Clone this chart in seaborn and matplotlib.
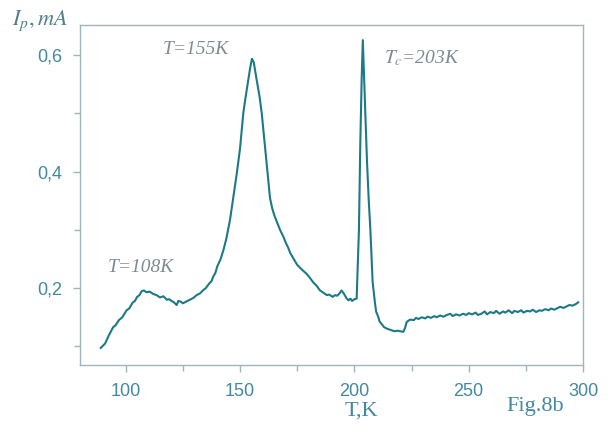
import matplotlib
matplotlib.use("Agg")
import matplotlib.pyplot as plt
import seaborn as sns
import pandas as pd
from matplotlib.ticker import FixedLocator

temperature_K = [
    89, 90, 91, 92.5, 94.5, 95.5, 97, 98.5, 100.4, 101.5, 103, 104, 105, 106, 107, 108,
    109, 110.5, 112, 113.5, 115, 116.5, 118, 119, 120, 121, 122.3, 123, 124, 125, 126,
    127, 128, 129.5, 131, 132.5, 134, 135, 136.5, 137.5, 138.3, 139.2, 140, 141.5,
    142.7, 144, 145.6, 147, 148.5, 150, 151.4, 152.5, 153.6, 154.5, 155.2, 156, 157.3,
    158.5, 159.5, 161, 162.4, 163.1, 164, 165, 166, 167.5, 169, 170, 171, 172, 173.5,
    175, 177, 179, 180.5, 182, 183.5, 185, 186.5, 188, 189, 190.5, 191.5, 192.5, 193.5,
    194.4, 195.5, 196.5, 197.4, 198.3, 199, 200, 201, 202, 202.6, 203.2, 203.7, 204.2,
    204.8, 205.5, 206.3, 207, 208, 209, 209.5, 210.5, 211, 212, 213, 214.5, 216, 217.5,
    219, 220, 221.4, 222.2, 222.9, 224.4, 226, 227, 228, 229.5, 231, 232, 233.5, 235,
    236, 237.5, 239, 240.5, 242, 243, 244.5, 246, 247.5, 249, 250, 251.5, 253, 254,
    255.5, 257, 258, 259.5, 261, 262, 263.5, 265, 266, 267.5, 269, 270, 271.5, 273,
    274, 275.5, 277, 278, 279.5, 281, 282, 283.5, 285, 286, 287.5, 289, 290, 291.5,
    293, 294, 295.5, 297, 298,
]
current_mA = [
    0.097, 0.101, 0.105, 0.118, 0.133, 0.136, 0.145, 0.150, 0.162, 0.165, 0.175, 0.178,
    0.185, 0.188, 0.195, 0.196, 0.193, 0.194, 0.190, 0.188, 0.184, 0.186, 0.180, 0.181,
    0.178, 0.176, 0.171, 0.178, 0.177, 0.174, 0.176, 0.178, 0.180, 0.183, 0.188, 0.191,
    0.197, 0.200, 0.208, 0.212, 0.220, 0.226, 0.237, 0.250, 0.265, 0.285, 0.317, 0.355,
    0.395, 0.440, 0.500, 0.530, 0.557, 0.580, 0.594, 0.588, 0.557, 0.530, 0.500, 0.440,
    0.385, 0.355, 0.338, 0.325, 0.315, 0.300, 0.288, 0.278, 0.270, 0.260, 0.250, 0.240,
    0.232, 0.225, 0.218, 0.210, 0.204, 0.196, 0.192, 0.188, 0.189, 0.185, 0.188, 0.187,
    0.191, 0.196, 0.190, 0.183, 0.179, 0.182, 0.178, 0.181, 0.182, 0.300, 0.450, 0.560,
    0.626, 0.570, 0.500, 0.420, 0.350, 0.300, 0.210, 0.175, 0.160, 0.150, 0.143, 0.138,
    0.133, 0.130, 0.128, 0.126, 0.127, 0.126, 0.125, 0.132, 0.142, 0.146, 0.145, 0.149,
    0.147, 0.150, 0.148, 0.151, 0.149, 0.152, 0.150, 0.153, 0.151, 0.154, 0.156, 0.152,
    0.155, 0.153, 0.156, 0.154, 0.157, 0.155, 0.158, 0.154, 0.156, 0.160, 0.155, 0.159,
    0.157, 0.161, 0.156, 0.160, 0.158, 0.162, 0.157, 0.161, 0.159, 0.162, 0.158, 0.161,
    0.160, 0.163, 0.159, 0.162, 0.161, 0.164, 0.162, 0.165, 0.163, 0.166, 0.168, 0.166,
    0.169, 0.171, 0.170, 0.173, 0.176,
]

x_ticks = [100, 150, 200, 250, 300]
x_minor_ticks = [125, 175, 225, 275]
y_ticks = [0.2, 0.4, 0.6]
y_tick_labels = ["0,2", "0,4", "0,6"]
y_minor_ticks = [0.1, 0.3, 0.5]

peak_labels = ["T=155K", "T=108K", r"$T_c$=203K"]
peak_label_pos = [(116, 0.603), (92, 0.227), (213, 0.586)]

sns.set_style("ticks")
plt.rcParams["mathtext.fontset"] = "stix"

line_color = "#1c7a86"
spine_color = "#9fb6bc"
tick_text_color = "#4389a0"
note_color = "#7d8b90"

df = pd.DataFrame({"T": temperature_K, "I": current_mA})

fig = plt.figure(figsize=(6.12, 4.25), dpi=100)
ax = fig.add_axes([80 / 612, 60 / 425, 503 / 612, 340 / 425])
sns.lineplot(data=df, x="T", y="I", ax=ax, color=line_color, linewidth=1.5)

ax.set_xlim(80, 300)
ax.set_ylim(0.068, 0.652)
ax.set_xticks(x_ticks)
ax.xaxis.set_minor_locator(FixedLocator(x_minor_ticks))
ax.set_yticks(y_ticks)
ax.set_yticklabels(y_tick_labels)
ax.yaxis.set_minor_locator(FixedLocator(y_minor_ticks))
ax.tick_params(which="both", direction="out", color=spine_color, width=1.0,
               labelcolor=tick_text_color, labelsize=13)
ax.tick_params(which="major", length=5, pad=8)
ax.tick_params(which="minor", length=4)
for lab in ax.get_xticklabels() + ax.get_yticklabels():
    lab.set_family("Liberation Sans")
for s in ax.spines.values():
    s.set_visible(True)
    s.set_color(spine_color)
    s.set_linewidth(1.0)
ax.set_xlabel("")
ax.set_ylabel("")

serif = "Liberation Serif"
for txt, (tx, ty) in zip(peak_labels, peak_label_pos):
    ax.text(tx, ty, txt, fontsize=14, style="italic", family=serif, color=note_color)

fig.text(12 / 612, 1 - 21 / 425, r"$I_p,mA$", fontsize=16, color="#4f7f8a",
         ha="left", va="center")
fig.text(361 / 612, 1 - 411 / 425, "T,K", fontsize=16, family=serif,
         color=tick_text_color, ha="center", va="center")
fig.text(535 / 612, 1 - 407 / 425, "Fig.8b", fontsize=16, family=serif,
         color=tick_text_color, ha="center", va="center")

fig.savefig("out.png", dpi=100, facecolor="white")
